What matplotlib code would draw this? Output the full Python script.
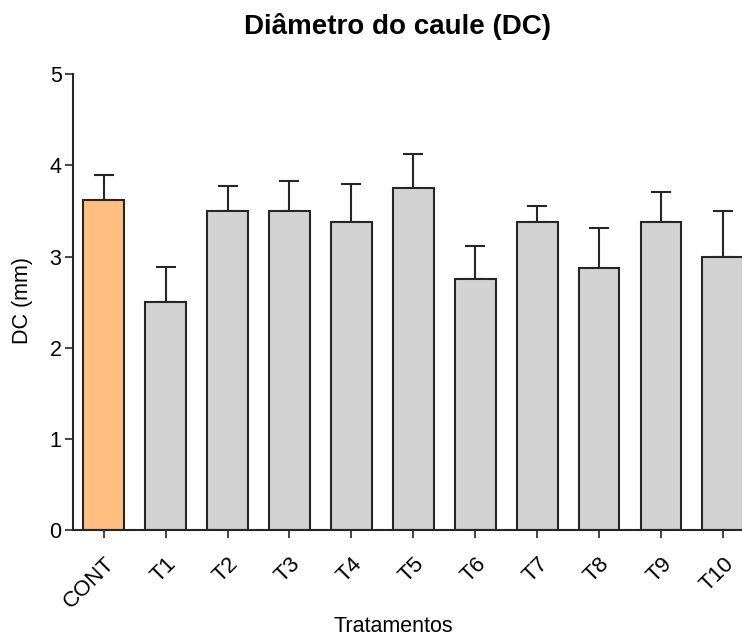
import matplotlib.pyplot as plt
import numpy as np

plt.rcParams['font.family'] = ['Liberation Sans', 'DejaVu Sans']

# Data
treatments = ['CONT', 'T1', 'T2', 'T3', 'T4', 'T5', 'T6', 'T7', 'T8', 'T9', 'T10']
dc_mean = [3.625, 2.5, 3.5, 3.5, 3.375, 3.75, 2.75, 3.375, 2.875, 3.375, 3.0]
dc_err = [0.27, 0.38, 0.27, 0.33, 0.42, 0.37, 0.37, 0.18, 0.44, 0.33, 0.5]

edge = '#262626'
bar_colors = ['#FFBF80'] + ['#D3D3D3'] * (len(treatments) - 1)

fig = plt.figure(figsize=(7.42, 6.4), dpi=100)
ax = fig.add_axes([0.098, 0.172, 0.918, 0.712])

x = np.arange(len(treatments))
ax.bar(x, dc_mean, width=0.66, color=bar_colors, edgecolor=edge, linewidth=1.5, zorder=2)
ax.errorbar(x, dc_mean, yerr=[np.zeros(len(x)), dc_err], fmt='none', ecolor=edge,
            elinewidth=1.5, capsize=7.5, capthick=1.5, zorder=1)

ax.set_xlim(-0.5, 10.5)
ax.set_ylim(0, 5)
ax.set_yticks(range(6))
ax.set_xticks(x)
ax.set_xticklabels(treatments, rotation=45, ha='right', rotation_mode='anchor', fontsize=16)
ax.tick_params(axis='y', labelsize=15.5, pad=2)
ax.tick_params(axis='x', pad=11)
ax.tick_params(direction='out', length=6, width=1.2, color=edge)

for side in ['top', 'right']:
    ax.spines[side].set_visible(False)
for side in ['left', 'bottom']:
    ax.spines[side].set_color(edge)
    ax.spines[side].set_linewidth(1.5)

fig.text(0.536, 0.958, 'Diâmetro do caule (DC)', ha='center', va='center',
         fontsize=20, fontweight='bold')
fig.text(0.53, 0.021, 'Tratamentos', ha='center', va='center', fontsize=15.5)
fig.text(0.03, 0.53, 'DC (mm)', ha='center', va='center', rotation=90, fontsize=15.5)

fig.savefig('out.png', dpi=100)
